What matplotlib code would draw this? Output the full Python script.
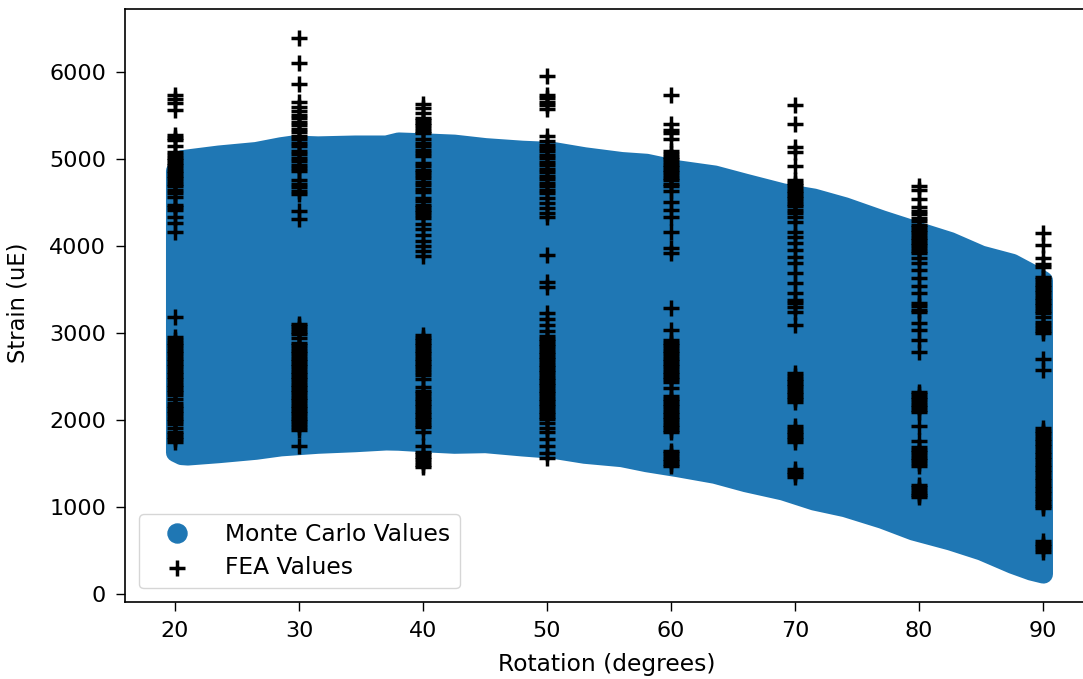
import matplotlib
matplotlib.use("Agg")
import matplotlib.pyplot as plt
from matplotlib.lines import Line2D

plt.rcParams['font.family'] = ['DejaVu Sans']

MC_COLOR = '#1f77b4'

# Monte Carlo envelope: lowest / highest simulated strain at each rotation
mc_rotation = [20.0, 20.5, 21.0, 23.5, 26.5, 28.5, 29.5, 31.5, 34.5, 37.0,
               38.0, 40.0, 42.5, 45.0, 48.0, 50.5, 53.0, 56.0, 58.0, 60.5,
               63.5, 66.0, 69.0, 71.5, 74.0, 77.0, 79.5, 82.5, 85.0, 87.5,
               89.0, 90.0]
mc_upper = [4870, 5000, 5010, 5055, 5095, 5150, 5170, 5160, 5170, 5170,
            5205, 5195, 5180, 5140, 5110, 5095, 5035, 4980, 4960, 4885,
            4825, 4730, 4620, 4560, 4460, 4310, 4195, 4060, 3905, 3810,
            3696, 3610]
mc_lower = [1635, 1600, 1595, 1622, 1661, 1700, 1710, 1730, 1748, 1768,
            1765, 1748, 1730, 1737, 1699, 1672, 1615, 1576, 1518, 1461,
            1385, 1288, 1193, 1078, 1001, 868, 733, 618, 503, 350,
            273, 238]

# FEA strain results at each rotation angle
fea_rotations = [20, 30, 40, 50, 60, 70, 80, 90]
fea_20 = [5740, 5690, 5650, 5570,
          5280, 5250, 5220, 5150, 5080, 5050, 5020, 4990, 4960, 4930, 4900,
          4870, 4840, 4810, 4780, 4750, 4720, 4690, 4650, 4610, 4570, 4480,
          4450, 4420, 4340, 4270, 4170,
          3190, 2960, 2920, 2890, 2860, 2830, 2800, 2770, 2740, 2710, 2680,
          2650, 2620, 2590, 2560, 2530, 2500, 2470, 2440, 2410, 2380, 2350,
          2320, 2290, 2250, 2200, 2170, 2140, 2110, 2080, 2050, 2020, 1990,
          1960, 1910, 1870, 1840, 1810, 1780, 1750]
fea_30 = [6390, 6110, 5870, 5660, 5600, 5550, 5510, 5470, 5430, 5390, 5350,
          5310, 5270, 5230, 5190, 5150, 5100, 5060, 5020, 4980, 4940, 4900,
          4860, 4760, 4720, 4680, 4640, 4600, 4400, 4310,
          3110, 3080, 3050, 3020, 2990, 2950, 2890, 2860, 2830, 2800, 2770,
          2740, 2710, 2680, 2650, 2620, 2590, 2560, 2530, 2500, 2470, 2440,
          2410, 2380, 2350, 2320, 2290, 2260, 2230, 2200, 2170, 2140, 2110,
          2080, 2050, 2020, 1990, 1960, 1920, 1890, 1700]
fea_40 = [5630, 5590, 5530, 5480, 5450, 5420, 5390, 5360, 5330, 5300, 5230,
          5190, 5150, 5110, 5070, 5040, 4960, 4920, 4880, 4850, 4820, 4790,
          4740, 4700, 4660, 4620, 4560, 4520, 4480, 4450, 4420, 4390, 4360,
          4330, 4260, 4200, 4130, 4060, 4000, 3950, 3890,
          2980, 2950, 2920, 2890, 2860, 2830, 2800, 2770, 2740, 2710, 2680,
          2650, 2620, 2590, 2560, 2520, 2470, 2380, 2340, 2310, 2280, 2250,
          2220, 2190, 2160, 2130, 2100, 2070, 2040, 2010, 1980, 1950, 1920,
          1870, 1700, 1640, 1610, 1580, 1550, 1520, 1490, 1460]
fea_50 = [5960, 5740, 5700, 5660, 5620, 5580, 5270, 5210, 5170, 5130, 5090,
          5050, 5010, 4970, 4930, 4890, 4850, 4810, 4770, 4730, 4690, 4650,
          4610, 4560, 4500, 4440, 4380, 4340,
          3900, 3590, 3530, 3230, 3160, 3100, 3030, 2970, 2940, 2910, 2880,
          2850, 2820, 2790, 2760, 2730, 2700, 2670, 2640, 2610, 2580, 2550,
          2520, 2490, 2460, 2430, 2400, 2370, 2340, 2310, 2280, 2250, 2220,
          2190, 2160, 2130, 2100, 2070, 2040, 2010, 1970, 1910, 1860, 1780,
          1700, 1620, 1570]
fea_60 = [5740, 5400, 5340, 5300, 5230, 5090, 5060, 5030, 5000, 4970, 4940,
          4910, 4880, 4850, 4820, 4790, 4760, 4720, 4690, 4630, 4510, 4420,
          4340, 4160, 3980, 3920,
          3290, 3040, 2920, 2890, 2860, 2830, 2800, 2770, 2740, 2710, 2680,
          2650, 2620, 2590, 2560, 2530, 2500, 2470, 2440, 2370, 2280, 2250,
          2220, 2190, 2160, 2130, 2100, 2070, 2040, 2010, 1980, 1950, 1920,
          1890, 1860, 1650, 1620, 1590, 1560, 1530, 1500, 1470]
fea_70 = [5620, 5400, 5140, 5080, 4920, 4760, 4730, 4700, 4670, 4640, 4610,
          4580, 4550, 4520, 4490, 4460, 4420, 4380, 4340, 4280, 4170, 4110,
          4040, 3960, 3880, 3810, 3690, 3580, 3460, 3380, 3350, 3300, 3250,
          3100,
          2540, 2510, 2480, 2450, 2420, 2390, 2360, 2330, 2300, 2270, 2240,
          2210, 1930, 1900, 1870, 1840, 1810, 1780, 1750, 1440, 1410, 1380,
          1350]
fea_80 = [4690, 4650, 4540, 4450, 4410, 4370, 4330, 4290, 4250, 4220, 4190,
          4160, 4130, 4100, 4070, 4040, 4010, 3980, 3950, 3920, 3870, 3810,
          3730, 3640, 3540, 3460, 3350, 3310, 3270, 3240, 3120, 3040, 2920,
          2790,
          2330, 2300, 2270, 2240, 2210, 2180, 2150, 2120, 2090, 1930, 1760,
          1690, 1660, 1630, 1600, 1570, 1540, 1510, 1480, 1260, 1230, 1200,
          1170, 1140, 1120]
fea_90 = [4150, 4010, 3860, 3800, 3760, 3650, 3620, 3590, 3560, 3530, 3500,
          3470, 3440, 3410, 3380, 3350, 3320, 3290, 3260, 3230, 3190, 3130,
          3090, 3060, 3030, 3000, 2700, 2580,
          1910, 1880, 1850, 1820, 1790, 1760, 1730, 1700, 1670, 1640, 1610,
          1580, 1550, 1520, 1490, 1460, 1430, 1400, 1370, 1340, 1310, 1280,
          1250, 1220, 1190, 1160, 1130, 1100, 1070, 1040, 1010, 990,
          610, 580, 550, 520, 490]
fea_values = [fea_20, fea_30, fea_40, fea_50, fea_60, fea_70, fea_80, fea_90]

x_ticks = [20, 30, 40, 50, 60, 70, 80, 90]
y_ticks = [0, 1000, 2000, 3000, 4000, 5000, 6000]

fig = plt.figure(figsize=(10.83, 6.79), dpi=100)
ax = fig.add_axes([0.11542, 0.11296, 0.8901, 0.87334])

# Monte Carlo cloud: the envelope filled, stroked with a round pen as wide
# as one scatter marker so the outline matches the marker cloud
MC_MARKER_PT = 13.7
band = ax.fill_between(mc_rotation, mc_lower, mc_upper, facecolor=MC_COLOR,
                       edgecolor=MC_COLOR, linewidth=MC_MARKER_PT, zorder=2)
band.set_joinstyle('round')
band.set_capstyle('round')

fea_x = [r for r, vals in zip(fea_rotations, fea_values) for _ in vals]
fea_y = [v for vals in fea_values for v in vals]
fea = ax.scatter(fea_x, fea_y, marker='+', s=117, linewidths=2.5,
                 color='black', zorder=3, label='FEA Values')

ax.set_xlim(15.968, 93.71)
ax.set_ylim(-92, 6724)
ax.set_xticks(x_ticks)
ax.set_yticks(y_ticks)
ax.tick_params(axis='both', which='major', labelsize=16, length=6.7,
               width=1.0, pad=7, direction='out')
for sp in ax.spines.values():
    sp.set_linewidth(1.2)
# the right edge of the frame falls past the saved image
ax.spines['right'].set_visible(False)

ax.set_xlabel('Rotation (degrees)', fontsize=16.8)
ax.set_ylabel('Strain (uE)', fontsize=16.3)
ax.xaxis.set_label_coords(0.5, -0.0848)
ax.yaxis.set_label_coords(-0.0988, 0.5056)

mc_handle = Line2D([], [], linestyle='none', marker='o',
                   markersize=MC_MARKER_PT, markerfacecolor=MC_COLOR,
                   markeredgecolor=MC_COLOR, label='Monte Carlo Values')
ax.legend(handles=[mc_handle, fea], loc='lower left', fontsize=16.8,
          borderaxespad=0.6, handlelength=2.46, handletextpad=0.83,
          labelspacing=0.42, scatterpoints=1, numpoints=1)

fig.savefig('out.png', dpi=100)
